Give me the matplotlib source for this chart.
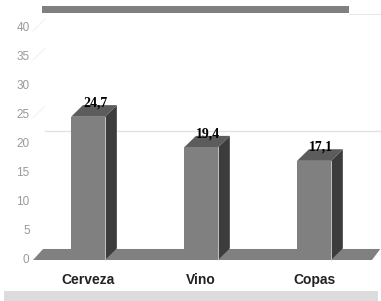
import matplotlib
matplotlib.use('Agg')
from matplotlib import pyplot as plt
from matplotlib.patches import Polygon, Rectangle
import numpy as np

# data
categories = ['Cerveza', 'Vino', 'Copas']
values = [24.7, 19.4, 17.1]
value_labels = ['24,7', '19,4', '17,1']
yticks = [0, 5, 10, 15, 20, 25, 30, 35, 40]

frontColor = '#808080'
sideColor = '#3c3c3c'
topColor = '#5c5c5c'
floorColor = '#808080'

W, H = 381, 301
fig = plt.figure(figsize=(W / 100, H / 100), dpi=100)

# axes placed so that 0 -> y=260px and 40 -> y=28px
ax = fig.add_axes([33 / W, (H - 260) / H, (380 - 33) / W, (260 - 28) / H])
ax.set_xlim(-0.487, 2.584)
ax.set_ylim(0, 40)
ax.axis('off')

barW = 0.30
dx = 0.105   # depth in x units
dy = 2.0     # depth in y units

# faint gridline
ax.plot([-0.487 + dx, 2.584], [22.2, 22.2], color='#e2e2e2', lw=1, zorder=0, clip_on=False)

# faint back wall edge marks
for t in [40, 35, 25]:
    ax.plot([-0.487, -0.487 + dx], [t - 0.5, t + dy - 0.5], color='#f0f0f0', lw=0.7, zorder=0, clip_on=False)

# floor
floor = Polygon([(-0.487, 0), (2.513, 0), (2.513 + dx * 0.7, dy * 0.95), (-0.487 + dx * 0.85, dy * 0.95)],
                closed=True, facecolor=floorColor, edgecolor='none', zorder=1, clip_on=False)
ax.add_patch(floor)

x = np.arange(len(categories))
for i in range(len(values)):
    v = values[i]
    x0 = x[i] - barW / 2
    x1 = x[i] + barW / 2
    front = Polygon([(x0, 0), (x1, 0), (x1, v), (x0, v)], closed=True,
                    facecolor=frontColor, edgecolor='none', zorder=3, clip_on=False)
    side = Polygon([(x1, 0), (x1 + dx, dy), (x1 + dx, v + dy), (x1, v)], closed=True,
                   facecolor=sideColor, edgecolor='none', zorder=2, clip_on=False)
    top = Polygon([(x0, v), (x1, v), (x1 + dx, v + dy), (x0 + dx, v + dy)], closed=True,
                  facecolor=topColor, edgecolor='none', zorder=2, clip_on=False)
    ax.add_patch(side)
    ax.add_patch(top)
    ax.add_patch(front)
    ax.plot([x1, x1], [0, v], color='#d8d8d8', lw=0.6, zorder=4, clip_on=False)
    ax.text(x[i] + dx * 0.6, v + dy * 1.15, value_labels[i], ha='center', va='center',
            fontsize=10, fontweight='bold', family='Liberation Serif', color='black', zorder=5)
    ax.text(x[i], -3.45, categories[i], ha='center', va='center', fontsize=10,
            fontweight='bold', family='Liberation Sans', color='#222222')

for t in yticks:
    ax.text(-0.487 - 0.03, t, str(t), ha='right', va='center', fontsize=8.5,
            color='#9a9a9a', family='Liberation Sans')

# title bar and bottom band
fig.patches.append(Rectangle((42 / W, (H - 13) / H), (349 - 42) / W, 7 / H,
                             transform=fig.transFigure, facecolor='#808080', edgecolor='none'))
fig.patches.append(Rectangle((349 / W, (H - 15) / H), (381 - 349) / W, 1.2 / H,
                             transform=fig.transFigure, facecolor='#e6e6e6', edgecolor='none'))
fig.patches.append(Rectangle((4 / W, 0), (378 - 4) / W, 10 / H,
                             transform=fig.transFigure, facecolor='#dcdcdc', edgecolor='none'))

fig.savefig('out.png', dpi=100)
